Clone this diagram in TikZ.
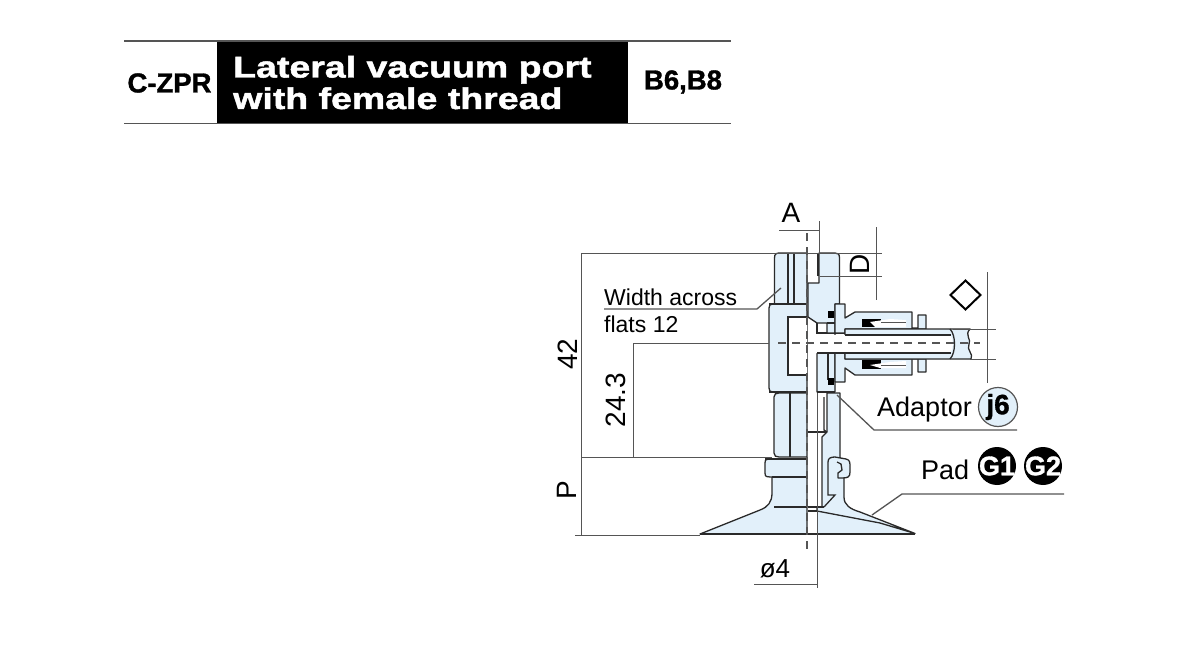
\documentclass[tikz,border=0pt]{standalone}
\usepackage{fontspec}
\setmainfont{Liberation Sans}
\newfontfamily\widefont[FakeStretch=1.25,FakeBold=1.6]{Liberation Sans Bold}
\newfontfamily\heavyfont[FakeBold=1.2]{Liberation Sans Bold}
\definecolor{partblue}{HTML}{E2F0FA}
\definecolor{inkgrey}{HTML}{2A2A2A}
\definecolor{dimgrey}{HTML}{555555}
\tikzset{
  x=1pt,y=-1pt,
  part/.style={draw=inkgrey,line width=1.3pt,fill=partblue,line join=round},
  edge/.style={draw=inkgrey,line width=1.3pt},
  thick edge/.style={draw=inkgrey,line width=2.2pt},
  dimline/.style={draw=dimgrey,line width=1pt},
  leader/.style={draw=dimgrey,line width=1.3pt},
  axis/.style={draw=dimgrey,line width=1.3pt,dash pattern=on 8pt off 6pt},
  lbl/.style={inner sep=0pt,text=black,font=\fontsize{23}{23}\selectfont},
  dimtext/.style={inner sep=0pt,text=black,font=\fontsize{28}{28}\selectfont},
  headtext/.style={inner sep=0pt,text=black,font=\heavyfont\fontsize{27.5}{27.5}\selectfont},
  titletext/.style={inner sep=0pt,anchor=base west,text=white,font=\widefont\fontsize{30}{30}\selectfont},
  blackbadge/.style={circle,fill=black,minimum size=38pt,inner sep=0pt},
  badgetext/.style={inner sep=0pt,text=white,font=\heavyfont\fontsize{27}{27}\selectfont},
  seal/.style={fill=black,draw=none},
}
\begin{document}
\begin{tikzpicture}
\useasboundingbox (0,0) rectangle (1200,650);
\fill[white] (0,0) rectangle (1200,650);
% ---------- header
\fill[black] (217,41) rectangle (628,124);
\draw[draw=dimgrey,line width=1.8pt] (124,41) -- (731,41) (124,123.5) -- (731,123.5);
\node[headtext] (hleft) at (169.5,83) {C-ZPR};
\node[headtext] (hright) at (683,82) {B6,B8};
\node[titletext] (t1) at (233,77.5) {Lateral vacuum port};
\node[titletext] (t2) at (233,109) {with female thread};
% ---------- pad, left half
\path[part] (700,534) -- (760,510) .. controls (768,507) and (772,502) .. (772,493) -- (772,477) -- (807,477) -- (807,534) -- cycle;
\path[part] (765,463) .. controls (765,459) and (767,459) .. (770,459) -- (807,459) -- (807,477) -- (770,477) .. controls (767,477) and (765,477) .. (765,473) -- cycle;
% ---------- pad, right half
\fill[partblue] (817,511) -- (880,523) -- (915,534) -- (817,534) -- cycle;
\path[part] (827,397) -- (827,393) -- (840,393) -- (840,457) -- (844,478) -- (844,497) .. controls (844,505) and (850,509) .. (860,512) -- (915,533.5) -- (880,523) -- (817,511) -- (817,507) -- (822,507) -- (822,437) -- (827,432) -- cycle;
\path[part] (828,462) .. controls (828,458) and (831,457) .. (835,457) -- (846,459) .. controls (850,460) and (850,462) .. (850,468) -- (850,472) .. controls (850,477) and (848,478) .. (842,478) -- (838,478) -- (838,473) -- (842,470) -- (841,464) -- (837,462);
\draw[edge] (828,462) -- (828,495) -- (835,495) -- (824,507);
\draw[edge] (700,534) -- (915,534);
\draw[thick edge] (765,459) -- (807,459) (772,477) -- (807,477);
\draw[edge] (774,507) -- (807,507) (808,507) -- (824,507) (808,511) -- (817,511);
% ---------- hexagon (lower body)
\path[part] (774,397) .. controls (774,394) and (776,393) .. (779,393) -- (807,393) -- (807,457) -- (779,457) .. controls (776,457) and (774,456) .. (774,453) -- cycle;
\draw[edge] (790,393) -- (790,457);
\draw[edge] (808,432) -- (827,432);
\draw[edge] (824,397) -- (824,430) -- (827,432);
% ---------- main body
\path[part] (774.5,304) -- (774.5,258) .. controls (774.5,254) and (776,253) .. (780,253) -- (807,253) -- (807,304) -- cycle;
\draw[edge] (788,253) -- (788,304) (794,253) -- (794,304);
\path[part] (769,308) .. controls (769,305) and (770,304) .. (773,304) -- (807,304) -- (807,392) -- (773,392) .. controls (770,392) and (769,391) .. (769,388) -- cycle;
\fill[white] (788,317) rectangle (807,375);
\draw[edge] (807,317) -- (788,317) -- (788,375) -- (807,375);
\path[part] (808,283) -- (819,283) -- (819,253) -- (835,253) .. controls (838,253) and (839.5,254) .. (839.5,258) -- (839.5,304) -- (835,304) -- (835,392) -- (817,392) -- (817,353) -- (835,353) -- (835,333) -- (827,333) -- (827,323) -- (817,323) -- (808,317) -- cycle;
\fill[white] (808,253) rectangle (818,282);
\draw[edge] (827,323) -- (835,323) (817,323) -- (817,333) -- (827,333);
\draw[thick edge] (818,253) -- (818,276);
\draw[thick edge] (769,304) -- (807,304) (769,392) -- (807,392) (817,392) -- (835,392);
\draw[edge] (828,353) -- (828,380);
% ---------- fitting
\path[part] (835,304) -- (845,304) -- (845,318) -- (855,312) -- (912,312) -- (912,328) -- (918,328) -- (918,315) -- (926,315) -- (926,329) -- (845,329) -- (845,333) -- (835,333) -- cycle;
\path[part] (835,353) -- (845,353) -- (845,359) -- (926,359) -- (926,372) -- (918,372) -- (918,359) -- (912,359) -- (912,375) -- (855,375) -- (845,368) -- (845,382) -- (835,382) -- cycle;
\fill[black] (862,318.5) rectangle (881,327);
\fill[white] (870,322) -- (890,319) -- (906,320) -- (906,327) -- (875,327) -- cycle;
\draw[dimgrey,line width=.8pt] (881,322) -- (906,322);
\fill[black] (862,360) rectangle (881,369);
\fill[white] (870,365) -- (890,362) -- (906,361) -- (906,368) -- (880,368) -- cycle;
\draw[dimgrey,line width=.8pt] (881,365) -- (906,365);
\fill[seal] (827.5,311) rectangle (834,318);
\fill[seal] (827.5,378) rectangle (834,385);
% ---------- tube
\path[part] (845,329) -- (970,329) .. controls (964,335) and (972,340) .. (969,344) .. controls (966,350) and (974,354) .. (971,359) -- (845,359) -- cycle;
\fill[white] (808,335) -- (950,335) .. controls (954,339) and (954,349) .. (950,353) -- (808,353) -- cycle;
\draw[edge] (950,329) .. controls (956,335) and (956,353) .. (950,359);
\draw[edge] (817,353) -- (951,353) (817,333.5) -- (845,333.5) (845,335) -- (951,335);
% ---------- axes
\draw[axis] (807,233) -- (807,550);
\draw[axis] (778,343) -- (980,343);
% ---------- dimension lines
\coordinate (topL) at (581,253);
\coordinate (topR) at (882,253);
\coordinate (botL) at (575,535);
\coordinate (botR) at (700,535);
\draw[dimline] (topL) -- (topR) (botL) -- (botR) (581,253) -- (581,535);
\draw[dimline] (581,457) -- (772,457);
\draw[dimline] (633,343) -- (769,343) (633,343) -- (633,457);
\draw[dimline] (779,230) -- (819,230) -- (819,253) (819,221) -- (819,230);
\draw[dimline] (817,393) -- (817,588);
\draw[dimline] (754,584) -- (817,584);
\draw[dimline] (876,227) -- (876,300) (820,276) -- (882,276);
\draw[dimline] (987,272) -- (987,383) (953,329) -- (996,329) (970,359) -- (996,359);
\node[dimtext] (dA) at (791,213) {A};
\node[dimtext,rotate=90] (dD) at (860,264) {D};
\node[dimtext,rotate=90] (d42) at (568,354) {42};
\node[dimtext,rotate=90] (d243) at (616,400) {24.3};
\node[dimtext,rotate=90] (dP) at (567,490) {P};
\node[lbl,font=\fontsize{26}{26}\selectfont] (d4) at (775,569) {ø4};
\draw[black,line width=2pt] (965.5,280.5) -- (980.5,295) -- (965.5,309.5) -- (950.5,295) -- cycle;
% ---------- labels and leaders
\node[lbl,anchor=base west] (wa) at (604,305) {Width across};
\node[lbl,anchor=base west] (fl) at (604,332) {flats 12};
\coordinate (wa1) at (604,309);
\coordinate (wa2) at (757,309);
\coordinate (wa3) at (781,288);
\draw[leader] (wa1) -- (wa2) -- (wa3);
\node[lbl,anchor=base west,font=\fontsize{27}{27}\selectfont] (ad) at (877,416) {Adaptor};
\node[circle,draw=dimgrey,line width=1.2pt,fill=partblue,minimum size=39pt,inner sep=0pt,font=\heavyfont\fontsize{28}{28}\selectfont] (j6) at (998,407) {j6};
\coordinate (ad1) at (837,395);
\coordinate (ad2) at (874,430);
\coordinate (ad3) at (1017,430);
\draw[leader] (ad1) -- (ad2) -- (ad3);
\node[lbl,anchor=base west,font=\fontsize{27}{27}\selectfont] (pd) at (921,479) {Pad};
\node[blackbadge] (g1) at (997,466) {};
\node[badgetext] (g1t) at (g1) {G1};
\node[blackbadge] (g2) at (1043,466) {};
\node[badgetext] (g2t) at (g2) {G2};
\coordinate (pd1) at (872,515);
\coordinate (pd2) at (902,494);
\coordinate (pd3) at (1064,494);
\draw[leader] (pd1) -- (pd2) -- (pd3);
\end{tikzpicture}
\end{document}
